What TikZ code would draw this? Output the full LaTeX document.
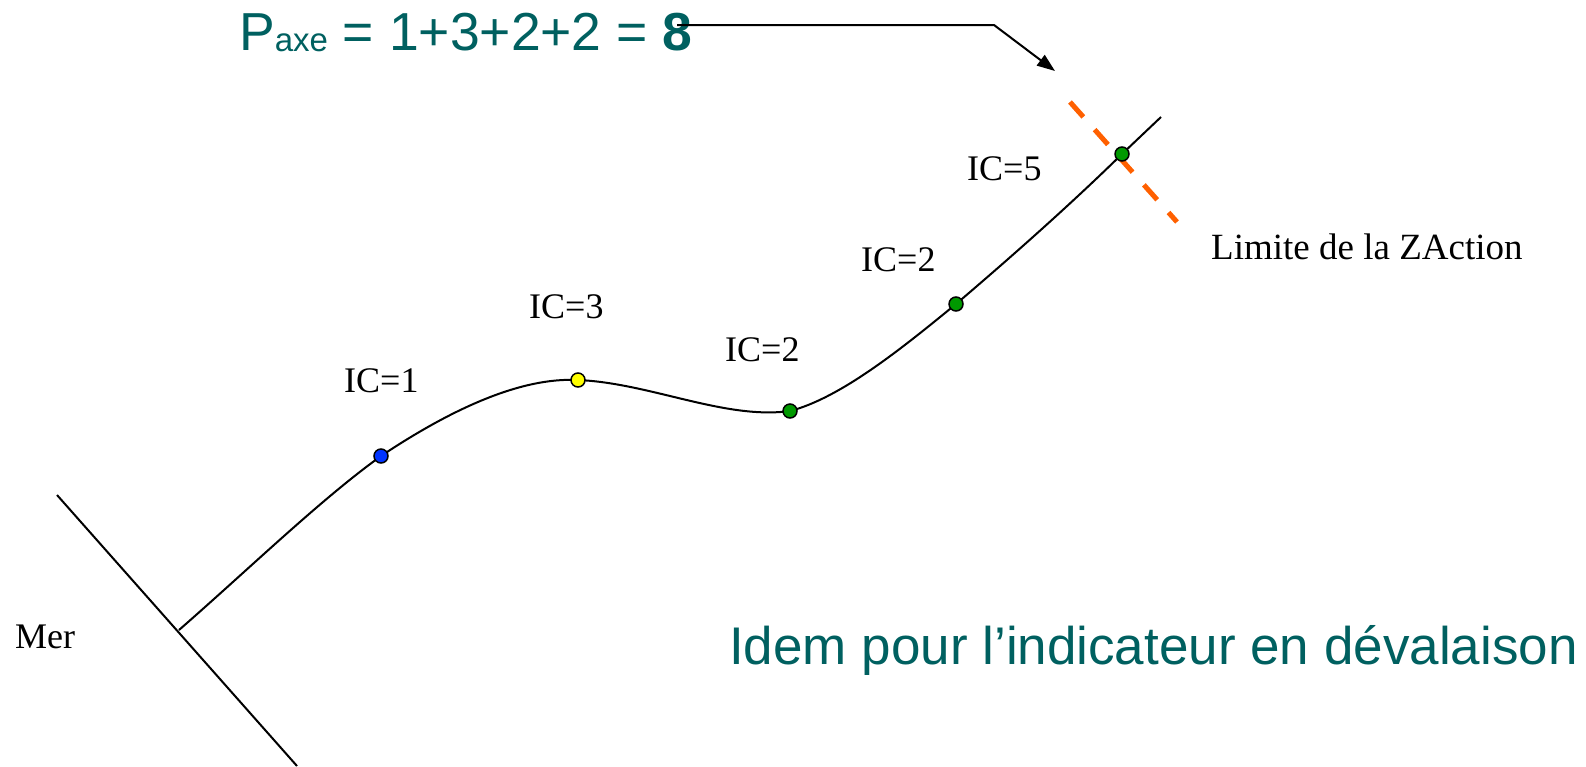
\documentclass[tikz,border=0pt]{standalone}
\usepackage{fontspec}
\setmainfont{Liberation Serif}
\newfontfamily\arialf{Liberation Sans}
\usetikzlibrary{arrows.meta}
\definecolor{tealtxt}{RGB}{0,96,96}
\definecolor{dotblue}{RGB}{0,51,255}
\definecolor{dotyellow}{RGB}{255,255,0}
\definecolor{dotgreen}{RGB}{0,153,0}
\definecolor{limorange}{RGB}{255,96,0}
\tikzset{
  lbl/.style={inner sep=0pt, anchor=base west, font=\fontsize{36}{40}\selectfont},
  bigtxt/.style={inner sep=0pt, anchor=base west, text=tealtxt, font=\arialf\fontsize{53}{60}\selectfont},
  river/.style={line width=2pt},
  dot/.style={circle, draw=black, line width=1.5pt, minimum size=14pt, inner sep=0pt},
  conn/.style={line width=2pt, -{Triangle[length=18pt,width=13pt]}},
  limit/.style={limorange, line width=5pt, dash pattern=on 20pt off 17pt}
}
\begin{document}
\begin{tikzpicture}[x=1pt,y=-1pt]
\useasboundingbox (0,0) rectangle (1586,766);
% coast line
\coordinate (coastTop) at (57,495);
\coordinate (coastBot) at (297,766);
\coordinate (mouth) at (179,630);
\draw[river] (coastTop) -- (coastBot);
\node[lbl] (mer) at (15,648) {Mer};
% points
\coordinate (p1) at (381,456);
\coordinate (p2) at (578,380);
\coordinate (p3) at (790,411);
\coordinate (p4) at (956,304);
\coordinate (p5) at (1122,154);
\coordinate (riverEnd) at (1161,117);
% river
\draw[river] (mouth) .. controls (250,568) and (320,500) .. (p1)
  .. controls (450,410) and (520,377) .. (p2)
  .. controls (650,383) and (725,420) .. (p3)
  .. controls (840,398) and (900,350) .. (p4)
  .. controls (1010,258) and (1070,205) .. (p5)
  -- (riverEnd);
% limit line
\coordinate (limA) at (1070,102);
\coordinate (limB) at (1177,222);
\draw[limit] (limA) -- (limB);
% dots
\node[dot, fill=dotblue] (d1) at (p1) {};
\node[dot, fill=dotyellow] (d2) at (p2) {};
\node[dot, fill=dotgreen] (d3) at (p3) {};
\node[dot, fill=dotgreen] (d4) at (p4) {};
\node[dot, fill=dotgreen] (d5) at (p5) {};
% labels
\node[lbl] (ic1) at (344,392) {IC=1};
\node[lbl] (ic3) at (529,318) {IC=3};
\node[lbl] (ic2a) at (725,361) {IC=2};
\node[lbl] (ic2b) at (861,271) {IC=2};
\node[lbl] (ic5) at (967,180) {IC=5};
\node[lbl, font=\fontsize{37}{40}\selectfont] (limite) at (1211,259) {Limite de la ZAction};
% formula
\node[bigtxt, font=\arialf\fontsize{53.5}{60}\selectfont] (paxe) at (239,50) {P\raisebox{-1pt}{\fontsize{33}{36}\selectfont axe} = 1+3+2+2 = \textbf{8}};
\coordinate (cStart) at (677,25);
\coordinate (cCorner) at (994,25);
\coordinate (cTip) at (1055,71);
\draw[conn] (cStart) -- (cCorner) -- (cTip);
% bottom text
\node[bigtxt] (idem) at (729,664) {Idem pour l’indicateur en dévalaison};
\end{tikzpicture}
\end{document}
